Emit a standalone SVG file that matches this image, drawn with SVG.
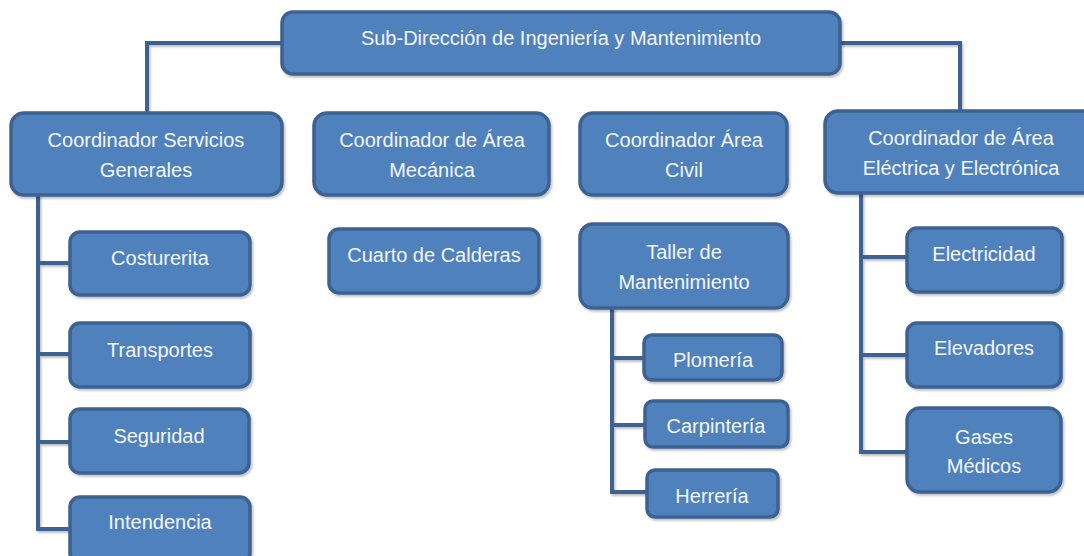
<svg xmlns="http://www.w3.org/2000/svg" width="1084" height="556" viewBox="0 0 1084 556">
<defs>
<filter id="sh" x="-10%" y="-10%" width="130%" height="130%">
<feDropShadow dx="1.5" dy="2" stdDeviation="1.2" flood-color="#000" flood-opacity="0.25"/>
</filter>
<style>
.box{fill:#4f81bd;stroke:#3c6292;stroke-width:3.5;filter:url(#sh)}
.lbl{font-family:"Liberation Sans",Arial,sans-serif;font-size:20px;fill:#f4f6fa;text-anchor:middle;dominant-baseline:central}
.con{fill:none;stroke:#3c6292;stroke-width:4;filter:url(#sh)}
</style>
</defs>
<rect width="1084" height="556" fill="#fff"/>
<g id="connectors">
<path class="con" d="M282 43 H147 V113"/>
<path class="con" d="M433 74 V113"/>
<path class="con" d="M686 74 V113"/>
<path class="con" d="M840 43 H960 V111"/>
<path class="con" d="M38 195 V529 H70 M38 263 H70 M38 354 H70 M38 442 H70"/>
<path class="con" d="M434 195 V229"/>
<path class="con" d="M689 195 V224"/>
<path class="con" d="M612 308 V492 H647 M612 358 H644 M612 425 H645"/>
<path class="con" d="M861 193 V452 H907 M861 257 H907 M861 355 H907"/>
</g>
<g id="n-top"><rect class="box" x="282" y="12" width="558" height="62" rx="11"/><text class="lbl" x="561" y="38">Sub-Dirección de Ingeniería y Mantenimiento</text></g>
<g id="n-servicios"><rect class="box" x="11" y="113" width="271" height="82" rx="13"/><text class="lbl" x="146" y="140">Coordinador Servicios</text><text class="lbl" x="146" y="170">Generales</text></g>
<g id="n-mecanica"><rect class="box" x="314" y="113" width="235" height="82" rx="13"/><text class="lbl" x="432" y="140">Coordinador de Área</text><text class="lbl" x="432" y="170">Mecánica</text></g>
<g id="n-civil"><rect class="box" x="580" y="113" width="207" height="82" rx="13"/><text class="lbl" x="684" y="140">Coordinador Área</text><text class="lbl" x="684" y="170">Civil</text></g>
<g id="n-electrica"><rect class="box" x="825" y="111" width="272" height="82" rx="13"/><text class="lbl" x="961" y="138">Coordinador de Área</text><text class="lbl" x="961" y="168">Eléctrica y Electrónica</text></g>
<g id="n-costurerita"><rect class="box" x="70" y="232" width="180" height="63" rx="10"/><text class="lbl" x="160" y="258">Costurerita</text></g>
<g id="n-transportes"><rect class="box" x="70" y="323" width="180" height="64" rx="10"/><text class="lbl" x="160" y="350">Transportes</text></g>
<g id="n-seguridad"><rect class="box" x="70" y="409" width="179" height="64" rx="10"/><text class="lbl" x="159" y="436">Seguridad</text></g>
<g id="n-intendencia"><rect class="box" x="70" y="497" width="180" height="66" rx="10"/><text class="lbl" x="160" y="522">Intendencia</text></g>
<g id="n-calderas"><rect class="box" x="329" y="229" width="210" height="64" rx="10"/><text class="lbl" x="434" y="255">Cuarto de Calderas</text></g>
<g id="n-taller"><rect class="box" x="580" y="224" width="208" height="84" rx="13"/><text class="lbl" x="684" y="252">Taller de</text><text class="lbl" x="684" y="282">Mantenimiento</text></g>
<g id="n-plomeria"><rect class="box" x="644" y="335" width="138" height="45" rx="8"/><text class="lbl" x="713" y="360">Plomería</text></g>
<g id="n-carpinteria"><rect class="box" x="645" y="401" width="143" height="46" rx="8"/><text class="lbl" x="716" y="426">Carpintería</text></g>
<g id="n-herreria"><rect class="box" x="647" y="470" width="131" height="47" rx="8"/><text class="lbl" x="712" y="496">Herrería</text></g>
<g id="n-electricidad"><rect class="box" x="907" y="228" width="155" height="64" rx="10"/><text class="lbl" x="984" y="254">Electricidad</text></g>
<g id="n-elevadores"><rect class="box" x="907" y="323" width="154" height="64" rx="10"/><text class="lbl" x="984" y="348">Elevadores</text></g>
<g id="n-gases"><rect class="box" x="907" y="408" width="154" height="84" rx="13"/><text class="lbl" x="984" y="437">Gases</text><text class="lbl" x="984" y="466">Médicos</text></g>
</svg>
